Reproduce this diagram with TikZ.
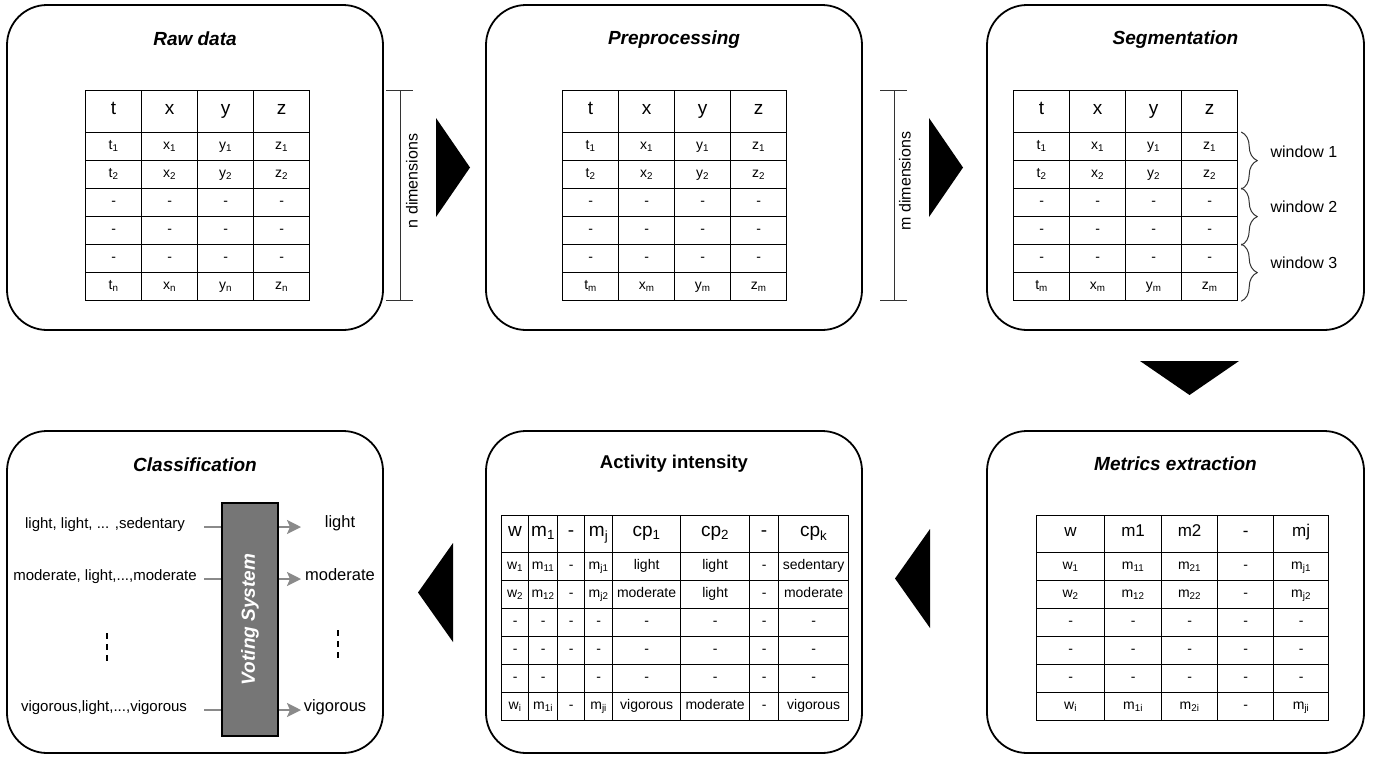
\documentclass[tikz,border=0pt]{standalone}
\usepackage{fontspec}
\setmainfont{Liberation Sans}
\usetikzlibrary{arrows.meta,decorations.pathreplacing,positioning}
\definecolor{votegray}{HTML}{767676}
\definecolor{linkgray}{HTML}{8A8A8A}
\tikzset{
        panel_box/.style={draw=black, line width=1.8pt, rounded corners=40pt, fill=white},
        panel_ttl/.style={font=\fontsize{19}{23}\selectfont\bfseries\itshape},
        tbl_cell/.style={draw=black, line width=1.2pt, anchor=north west, inner sep=0pt,
                         text height=0.72em, text depth=0.22em},
        h_big/.style={tbl_cell, font=\fontsize{19}{22}\selectfont},
        h_mid/.style={tbl_cell, font=\fontsize{17}{20}\selectfont},
        d_cell/.style={tbl_cell, font=\fontsize{14}{16}\selectfont},
        dim_line/.style={draw=black!80, line width=1pt},
        dim_lbl/.style={font=\fontsize{16}{19}\selectfont, rotate=90},
        win_brace/.style={draw=black!80, line width=1pt, decorate, decoration={brace, amplitude=16pt, raise=3pt}},
        win_lbl/.style={anchor=west, font=\fontsize{16}{19}\selectfont},
        flow_tri/.style={fill=black},
        vote_box/.style={draw=black, line width=2pt, fill=votegray, minimum width=56pt, minimum height=233pt},
        vote_lbl/.style={font=\fontsize{19}{23}\selectfont\bfseries\itshape, text=white, rotate=90},
        vote_in/.style={font=\fontsize{15}{18}\selectfont},
        vote_out/.style={font=\fontsize{16.5}{19}\selectfont},
        vote_line/.style={draw=linkgray, line width=2pt},
        vote_arrow/.style={vote_line, -{Stealth[length=14pt, width=14pt, inset=3pt]}},
        vdots_line/.style={draw=black, line width=1.5pt, dash pattern=on 6pt off 5pt}
    }
% column borders of the tables
\def\rawcols{{85,141,197,253,309}}
\def\precols{{562,618,674,730,786}}
\def\segcols{{1013,1069,1125,1181,1237}}
\def\metcols{{1036,1104,1161,1217,1273,1328}}
\def\actcols{{501,528,557,584,612,680,749,778,848}}
\newcommand{\tblrow}[6]{%
    \foreach \e [count=\i] in {#6} {
        \pgfmathsetmacro{\xl}{#2[\i-1]}
        \pgfmathsetmacro{\xr}{#2[\i]}
        \node[#5, minimum width={(\xr-\xl)*1pt}, minimum height=#4pt] (#1-\i) at (\xl,#3) {\e};
    }%
}
\begin{document}
\begin{tikzpicture}[x=1pt, y=-1pt]
    \useasboundingbox (0,0) rectangle (1378,758);

    \node[panel_box, minimum width=376pt, minimum height=325pt] (raw) at (195,167.5) {};
    \node[panel_box, minimum width=376pt, minimum height=325pt] (pre) at (674,167.5) {};
    \node[panel_box, minimum width=377pt, minimum height=325pt] (seg) at (1175.5,167.5) {};
    \node[panel_box, minimum width=377pt, minimum height=322pt] (met) at (1175.5,592) {};
    \node[panel_box, minimum width=376pt, minimum height=322pt] (act) at (674,592) {};
    \node[panel_box, minimum width=376pt, minimum height=322pt] (cls) at (195,592) {};

    \node[panel_ttl] (raw-ttl) at ([yshift=-35pt]raw.north) {Raw data};
    \node[panel_ttl] (pre-ttl) at ([yshift=-35pt]pre.north) {Preprocessing};
    \node[panel_ttl] (seg-ttl) at ([yshift=-35pt]seg.north) {Segmentation};
    \node[panel_ttl] (met-ttl) at ([yshift=-34pt]met.north) {Metrics extraction};
    \node[panel_ttl, font=\fontsize{18.5}{22}\selectfont\bfseries] (act-ttl) at ([yshift=-34pt]act.north) {Activity intensity};
    \node[panel_ttl] (cls-ttl) at ([yshift=-35pt]cls.north) {Classification};

    \foreach \p/\tcols/\s in {raw/\rawcols/n, pre/\precols/m, seg/\segcols/m} {
        \tblrow{\p-0}{\tcols}{90}{42}{h_big}{t,x,y,z}
        \tblrow{\p-1}{\tcols}{132}{28}{d_cell}{t\textsubscript{1},x\textsubscript{1},y\textsubscript{1},z\textsubscript{1}}
        \tblrow{\p-2}{\tcols}{160}{28}{d_cell}{t\textsubscript{2},x\textsubscript{2},y\textsubscript{2},z\textsubscript{2}}
        \tblrow{\p-3}{\tcols}{188}{28}{d_cell}{-,-,-,-}
        \tblrow{\p-4}{\tcols}{216}{28}{d_cell}{-,-,-,-}
        \tblrow{\p-5}{\tcols}{244}{28}{d_cell}{-,-,-,-}
        \tblrow{\p-6}{\tcols}{272}{28}{d_cell}{t\textsubscript{\s},x\textsubscript{\s},y\textsubscript{\s},z\textsubscript{\s}}
    }

    \coordinate (ndim-top) at (400,90);
    \coordinate (ndim-bot) at (400,300);
    \draw[dim_line] (ndim-top) -- (ndim-bot);
    \draw[dim_line] ([xshift=-14pt]ndim-top) -- ([xshift=13pt]ndim-top);
    \draw[dim_line] ([xshift=-14pt]ndim-bot) -- ([xshift=13pt]ndim-bot);
    \node[dim_lbl] (ndim-lbl) at (412,181) {n dimensions};

    \coordinate (mdim-top) at (894,90);
    \coordinate (mdim-bot) at (894,300);
    \draw[dim_line] (mdim-top) -- (mdim-bot);
    \draw[dim_line] ([xshift=-14pt]mdim-top) -- ([xshift=13pt]mdim-top);
    \draw[dim_line] ([xshift=-14pt]mdim-bot) -- ([xshift=13pt]mdim-bot);
    \node[dim_lbl] (mdim-lbl) at (905,181) {m dimensions};

    \draw[win_brace] (seg-1-4.north east) -- (seg-2-4.south east);
    \draw[win_brace] (seg-3-4.north east) -- (seg-4-4.south east);
    \draw[win_brace] (seg-5-4.north east) -- (seg-6-4.south east);
    \node[win_lbl] (win1) at (1267,152) {window 1};
    \node[win_lbl] (win2) at (1267,207) {window 2};
    \node[win_lbl] (win3) at (1267,263) {window 3};

    \tblrow{met-0}{\metcols}{515}{37}{h_mid}{w,m1,m2,-,mj}
    \tblrow{met-1}{\metcols}{552}{28}{d_cell}{w\textsubscript{1},m\textsubscript{11},m\textsubscript{21},-,m\textsubscript{j1}}
    \tblrow{met-2}{\metcols}{580}{28}{d_cell}{w\textsubscript{2},m\textsubscript{12},m\textsubscript{22},-,m\textsubscript{j2}}
    \tblrow{met-3}{\metcols}{608}{28}{d_cell}{-,-,-,-,-}
    \tblrow{met-4}{\metcols}{636}{28}{d_cell}{-,-,-,-,-}
    \tblrow{met-5}{\metcols}{664}{28}{d_cell}{-,-,-,-,-}
    \tblrow{met-6}{\metcols}{692}{28}{d_cell}{w\textsubscript{i},m\textsubscript{1i},m\textsubscript{2i},-,m\textsubscript{ji}}

    \tblrow{act-0}{\actcols}{515}{37}{h_big}{w,m\textsubscript{1},-,m\textsubscript{j},cp\textsubscript{1},cp\textsubscript{2},-,cp\textsubscript{k}}
    \tblrow{act-1}{\actcols}{552}{28}{d_cell}{w\textsubscript{1},m\textsubscript{11},-,m\textsubscript{j1},light,light,-,sedentary}
    \tblrow{act-2}{\actcols}{580}{28}{d_cell}{w\textsubscript{2},m\textsubscript{12},-,m\textsubscript{j2},moderate,light,-,moderate}
    \tblrow{act-3}{\actcols}{608}{28}{d_cell}{-,-,-,-,-,-,-,-}
    \tblrow{act-4}{\actcols}{636}{28}{d_cell}{-,-,-,-,-,-,-,-}
    \tblrow{act-5}{\actcols}{664}{28}{d_cell}{-,-,{},-,-,-,-,-}
    \tblrow{act-6}{\actcols}{692}{28}{d_cell}{w\textsubscript{i},m\textsubscript{1i},-,m\textsubscript{ji},vigorous,moderate,-,vigorous}

    \fill[flow_tri] (436,118) -- (470,167.5) -- (436,217) -- cycle;
    \fill[flow_tri] (929,118) -- (963,167.5) -- (929,217) -- cycle;
    \fill[flow_tri] (1140,361) -- (1239,361) -- (1189.5,395) -- cycle;
    \fill[flow_tri] (930,529) -- (895,578.5) -- (930,628) -- cycle;
    \fill[flow_tri] (453,543) -- (418,592.5) -- (453,642) -- cycle;

    \node[vote_box] (vote) at (250,619.5) {};
    \node[vote_lbl] (vote-lbl) at (vote.center) {Voting System};

    \node[vote_in] (in1-lbl) at (105,525) {light, light, ... ,sedentary};
    \node[vote_in] (in2-lbl) at (105,577) {moderate, light,...,moderate};
    \node[vote_in] (in3-lbl) at (104,708) {vigorous,light,...,vigorous};
    \node[vote_out] (out1-lbl) at (340,523) {light};
    \node[vote_out] (out2-lbl) at (340,575) {moderate};
    \node[vote_out] (out3-lbl) at (335,707) {vigorous};

    \coordinate (in1) at (204,527);
    \coordinate (in2) at (204,579);
    \coordinate (in3) at (204,710);
    \coordinate (out1) at (301,527);
    \coordinate (out2) at (301,579);
    \coordinate (out3) at (301,710);
    \foreach \k in {1,2,3} {
        \draw[vote_line] (in\k) -- (in\k -| vote.west);
        \draw[vote_arrow] (out\k -| vote.east) -- (out\k);
    }

    \draw[vdots_line] (107,633) -- (107,663);
    \draw[vdots_line] (338,630) -- (338,660);
\end{tikzpicture}
\end{document}
